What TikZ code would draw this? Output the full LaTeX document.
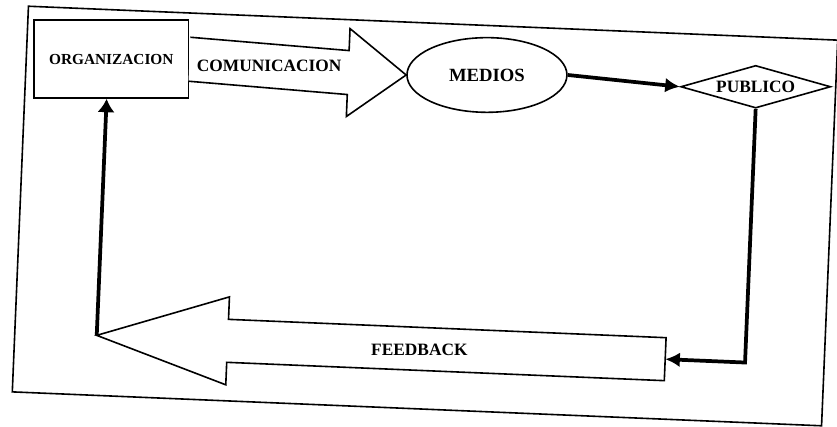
\documentclass[tikz,border=0pt]{standalone}
\usepackage{fontspec}
\setmainfont{Liberation Serif}
\usetikzlibrary{shapes.geometric}
\usetikzlibrary{arrows.meta}
\usetikzlibrary{calc}

\tikzset{
  lbl/.style={font=\bfseries\fontsize{13}{15}\selectfont},
  shapeline/.style={line width=1.2pt},
  bigarrow/.style={line width=1.2pt, line join=miter, fill=white},
  thickline/.style={line width=2.8pt, -{Latex[length=11pt,width=11pt]}}
}

\begin{document}
\begin{tikzpicture}[x=0.75pt,y=0.75pt,yscale=-1,xscale=1]
\useasboundingbox (0,0) rectangle (837,426);

\begin{scope}[rotate around={2.4:(425,216)}]
%Shape: outer frame
\draw [shapeline] (20,23) rectangle (830,409);

%Shape: boxes
\node [lbl, shapeline, draw, rectangle, minimum width=116pt, minimum height=58.5pt, font=\bfseries\fontsize{11.5}{13}\selectfont] (org) at (105,72.5) {ORGANIZACION};
\node [lbl, shapeline, draw, ellipse, inner sep=0pt, minimum width=120pt, minimum height=56pt, font=\bfseries\fontsize{14}{16}\selectfont] (medios) at (481,72.5) {MEDIOS};
\node [lbl, shapeline, draw, diamond, aspect=3.5, inner sep=0pt, minimum width=112.5pt, minimum height=32pt] (publico) at (750,73) {PUBLICO};

%Shape: block arrow comunicacion
\draw [bigarrow] ($(org.east)+(0,-22)$) -- ($(medios.west)+(-58,-22)$) -- ($(medios.west)+(-58,-44)$) -- (medios.west) -- ($(medios.west)+(-58,44)$) -- ($(medios.west)+(-58,22)$) -- ($(org.east)+(0,22)$);
\node [lbl] (comu) at (263,72.5) {COMUNICACION};

%Shape: block arrow feedback
\coordinate (fbtip) at (102,349);
\coordinate (fbend) at (671,349);
\draw [bigarrow] (fbend) -- ++(0,-21.5) -- ($(fbtip)+(131,-21.5)$) -- ($(fbtip)+(131,-44)$) -- (fbtip) -- ($(fbtip)+(131,44)$) -- ($(fbtip)+(131,21.5)$) -- ($(fbend)+(0,21.5)$) -- cycle;
\node [lbl] (feed) at (425,350) {FEEDBACK};

%Straight Lines
\draw [thickline] (medios.east) -- (publico.west);
\draw [thickline] (publico.south) |- (fbend);
\draw [line width=2.8pt, -{Latex[length=10pt,width=13pt]}] (fbtip) -- (fbtip |- org.south);
\end{scope}

\end{tikzpicture}
\end{document}
